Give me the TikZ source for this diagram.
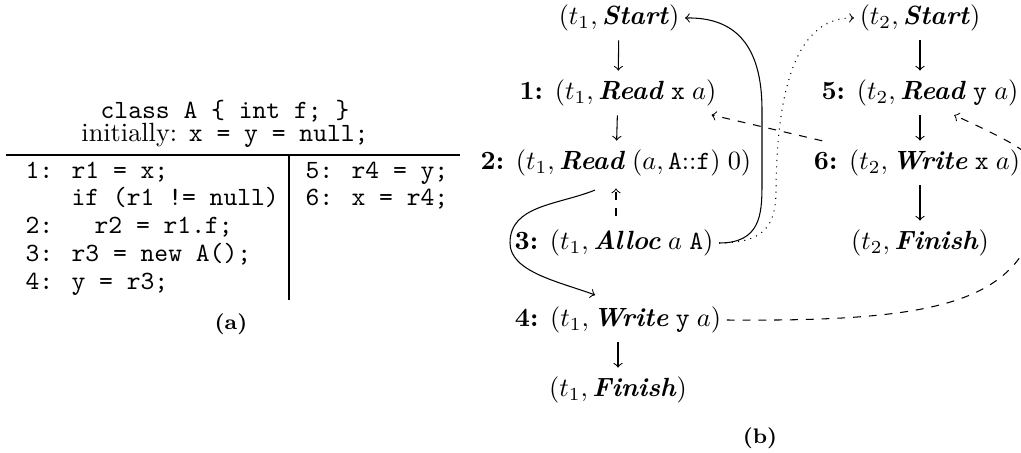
\documentclass[tikz,border=0pt]{standalone}
\newcommand{\kw}[1]{\textbf{\textit{#1}}}
\tikzset{
  ev/.style={inner xsep=2pt, inner ysep=0pt, text height=7.5pt, text depth=2.5pt},
  code/.style={anchor=base west, inner sep=0pt, font=\ttfamily},
  hdr/.style={anchor=base, inner sep=0pt},
  seq/.style={->, shorten <=3.3pt, shorten >=3.3pt},
  subcap/.style={inner sep=0pt, font=\footnotesize\bfseries},
}
\begin{document}
\begin{tikzpicture}[x=0.38pt, y=-0.38pt]
\useasboundingbox (0,0) rectangle (1021,453);
% ---------- (a) ----------
\node[hdr] (h1) at (225,118) {\texttt{class A \{ int f; \}}};
\node[hdr] (h2) at (225,141) {initially: \texttt{x = y = null;}};
\draw (6,155) -- (460,155);
\draw (289,155) -- (289,300);
\node[code] (c1) at (25,178) {1: r1 = x;};
\node[code] (c2) at (25,205) {\hphantom{1: }if (r1 != null)};
\node[code] (c3) at (25,233) {2:\ \ \ r2 = r1.f;};
\node[code] (c4) at (25,261) {3: r3 = new A();};
\node[code] (c5) at (25,289) {4: y = r3;};
\node[code] (c6) at (305,178) {5: r4 = y;};
\node[code] (c7) at (305,205) {6: x = r4;};
\node[subcap] (capa) at (231,324) {(a)};
% ---------- (b) ----------
\node[ev] (s1) at (619,18)  {$(t_1, \kw{Start})$};
\node[ev] (n1) at (618,93)  {\textbf{1:} $(t_1, \kw{Read}\;\texttt{x}\;a)$};
\node[ev] (n2) at (616,163) {\textbf{2:} $(t_1, \kw{Read}\;(a, \texttt{A}{:}{:}\texttt{f})\;0)$};
\node[ev] (n3) at (614,243) {\textbf{3:} $(t_1, \kw{Alloc}\;a\;\texttt{A})$};
\node[ev] (n4) at (618,320) {\textbf{4:} $(t_1, \kw{Write}\;\texttt{y}\;a)$};
\node[ev] (f1) at (618,390) {$(t_1, \kw{Finish})$};
\node[ev] (s2) at (920,18)  {$(t_2, \kw{Start})$};
\node[ev] (n5) at (920,93)  {\textbf{5:} $(t_2, \kw{Read}\;\texttt{y}\;a)$};
\node[ev] (n6) at (917,163) {\textbf{6:} $(t_2, \kw{Write}\;\texttt{x}\;a)$};
\node[ev] (f2) at (920,243) {$(t_2, \kw{Finish})$};
\node[subcap] (capb) at (760,438) {(b)};
% program order
\draw[seq] (s1) -- (n1);
\draw[seq] (n1) -- (n2);
\draw[seq] (n4) -- (f1);
\draw[seq] (s2) -- (n5);
\draw[seq] (n5) -- (n5 |- n6.north);
\draw[seq] (n6.south -| f2) -- (f2);
% dashed 3 -> 2
\draw[->, dashed, shorten <=5pt, shorten >=4.5pt] (n2.south |- n3.north) -- (n2.south);
% brace 2 -> 4
\draw[->] ([xshift=-8pt,yshift=-10.3pt]n2.center) .. controls (558,205) and (510,205) .. (510,243)
  .. controls (510,272) and (560,282) .. ([xshift=-8.7pt,yshift=9.5pt]n4.center);
% solid 3 -> start1
\draw[->] (n3.east) .. controls (760,243) and (762,215) .. (762,185) -- (762,110)
  .. controls (762,45) and (735,17) .. (s1.east);
% dotted 3 -> start2
\draw[->, dotted] (n3.east) .. controls (765,243) and (776,225) .. (776,190)
  .. controls (777,80) and (800,17) .. (s2.west);
% dashed 6 -> 1
\draw[->, dashed, shorten <=37pt, shorten >=36.5pt] (n6.center) -- (n1.center);
% dashed 4 -> 5
\draw[->, dashed] (n4.east) .. controls (950,322) and (1025,300) .. (1042,200)
  .. controls (1048,160) and (1030,150) .. ([xshift=13pt,yshift=-8.4pt]n5.center);
\end{tikzpicture}
\end{document}
